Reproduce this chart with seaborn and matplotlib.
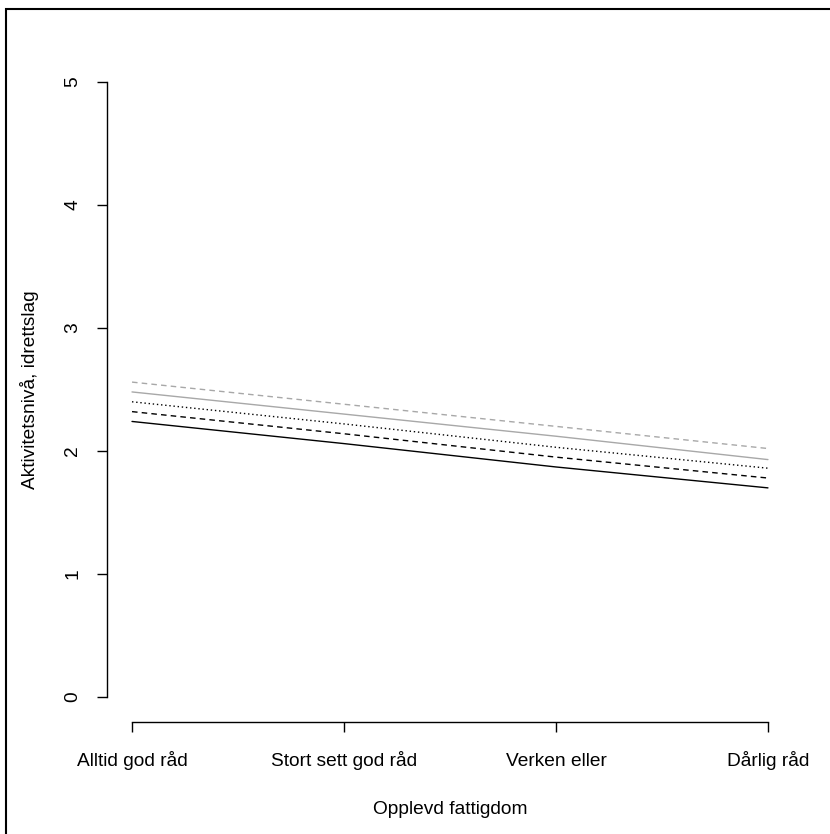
import pandas as pd
import seaborn as sns
import matplotlib.pyplot as plt
from matplotlib.patches import Rectangle

categories = ['Alltid god råd', 'Stort sett god råd', 'Verken eller', 'Dårlig råd']
positions = [1, 2, 3, 4]

line1 = [2.24, 2.06, 1.87, 1.70]   # solid black
line2 = [2.32, 2.14, 1.95, 1.78]   # dashed black
line3 = [2.40, 2.22, 2.03, 1.86]   # dotted black
line4 = [2.48, 2.30, 2.12, 1.93]   # solid gray
line5 = [2.56, 2.38, 2.20, 2.02]   # dashed gray

label_x = 'Opplevd fattigdom'
label_y = 'Aktivitetsnivå, idrettslag'

sns.set_style('ticks')
plt.rcParams['font.family'] = ['Liberation Sans', 'DejaVu Sans']
plt.rcParams['text.color'] = 'black'
plt.rcParams['axes.labelcolor'] = 'black'

fig = plt.figure(figsize=(8.30, 8.34), dpi=100)
ax = fig.add_axes([0.1284, 0.1348, 0.8275, 0.7964])

styles = [
    (line1, 'black', '-'),
    (line2, 'black', (0, (4, 3))),
    (line3, 'black', (0, (1, 2))),
    (line4, '#A8A8A8', '-'),
    (line5, '#A8A8A8', (0, (4, 3))),
]
for vals, col, ls in styles:
    df = pd.DataFrame({'x': positions, 'y': vals})
    sns.lineplot(data=df, x='x', y='y', color=col, linestyle=ls, lw=1.0, ax=ax)

ax.set_xlim(0.88, 4.12)
ax.set_ylim(-0.2, 5.2)
ax.set_xticks(positions)
ax.set_xticklabels(categories, va='baseline')
ax.set_yticks([0, 1, 2, 3, 4, 5])
ax.set_yticklabels(['0', '1', '2', '3', '4', '5'], rotation=90, va='center')

for s in ['top', 'right']:
    ax.spines[s].set_visible(False)
ax.spines['left'].set_bounds(0, 5)
ax.spines['bottom'].set_bounds(1, 4)
for s in ['left', 'bottom']:
    ax.spines[s].set_linewidth(1.0)
    ax.spines[s].set_color('black')

ax.tick_params(axis='both', length=7.2, width=1.0, colors='black', labelsize=13.8, direction='out')
ax.tick_params(axis='x', pad=25)
ax.tick_params(axis='y', pad=11)

ax.set_xlabel(label_x, fontsize=13.8, labelpad=22, color='black')
ax.set_ylabel(label_y, fontsize=13.8, labelpad=18, color='black')

fig.patches.append(Rectangle((6 / 830, -0.1), 1.2, 1 - 8.5 / 834 + 0.1,
                             transform=fig.transFigure, fill=False,
                             edgecolor='black', lw=1.5, clip_on=False))

fig.savefig('out.png', dpi=100)
